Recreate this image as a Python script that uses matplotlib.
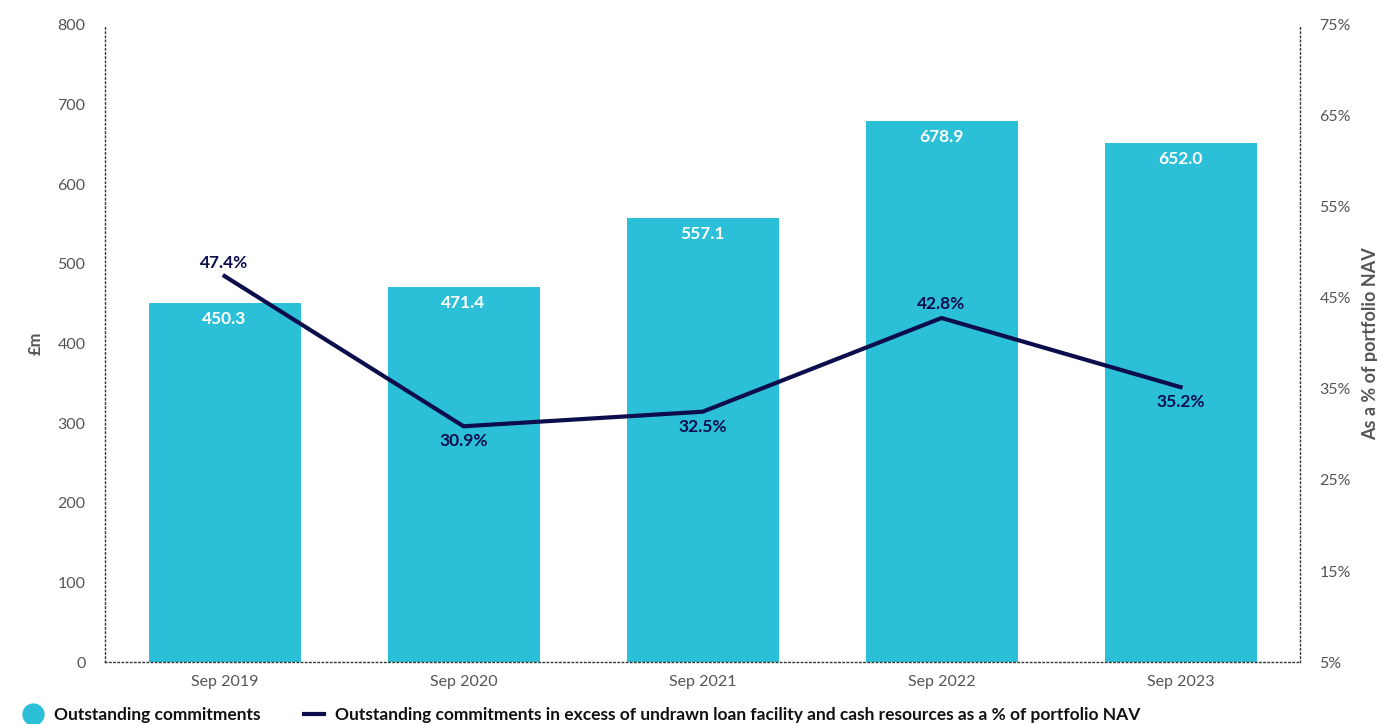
import matplotlib.pyplot as plt
from matplotlib.lines import Line2D

plt.rcParams['font.family'] = ['Lato', 'DejaVu Sans']

years = ["Sep 2019", "Sep 2020", "Sep 2021", "Sep 2022", "Sep 2023"]
commitments = [450.3, 471.4, 557.1, 678.9, 652.0]
pct_nav = [47.4, 30.9, 32.5, 42.8, 35.2]
pct_above = [True, False, False, True, False]

bar_col = '#2bbfd8'
line_col = '#0b0d4d'
grey = '#555555'

fig = plt.figure(figsize=(13.77, 7.24), dpi=100)
ax = fig.add_axes([0.0763, 0.0856, 0.8678, 0.88])
x = list(range(len(years)))

bars = ax.bar(x, commitments, width=0.636, color=bar_col, zorder=2)
for xi, v in zip(x, commitments):
    ax.text(xi, v - 10, f"{v:.1f}", ha='center', va='top', color='white',
            fontsize=12.5, fontweight='bold', zorder=4)

ax.set_xlim(-0.5, 4.5)
ax.set_ylim(0, 800)
ax.set_yticks(range(0, 801, 100))
ax.set_xticks(x)
ax.set_xticklabels(years)
ax.tick_params(length=0, colors=grey, labelsize=11.5)
ax.tick_params(axis='y', pad=14)
ax.tick_params(axis='x', pad=9)
ax.set_ylabel("£m", color=grey, fontsize=12, fontweight='bold', labelpad=10)

for s in ['top']:
    ax.spines[s].set_visible(False)
for s in ['left', 'right', 'bottom']:
    ax.spines[s].set_linestyle((0, (1, 2)))
    ax.spines[s].set_color('#333333')
    ax.spines[s].set_linewidth(1)

ax2 = ax.twinx()
ax2.set_ylim(5, 75)
ax2.set_yticks(range(5, 76, 10))
ax2.set_yticklabels([f"{t}%" for t in range(5, 76, 10)])
ax2.tick_params(length=0, colors=grey, labelsize=11.5, pad=14)
for s in ['top', 'left', 'bottom', 'right']:
    ax2.spines[s].set_visible(False)
ax2.plot(x, pct_nav, color=line_col, linewidth=3, zorder=3)
for xi, v, up in zip(x, pct_nav, pct_above):
    ax2.annotate(f"{v}%", (xi, v), xytext=(0, 4 if up else -5),
                 textcoords='offset points', ha='center',
                 va='bottom' if up else 'top', color=line_col,
                 fontsize=12.5, fontweight='bold', zorder=4)
ax2.set_ylabel("As a % of portfolio NAV", color=grey, fontsize=13,
               fontweight='bold', labelpad=8)

handles = [
    Line2D([], [], marker='o', linestyle='none', markersize=15,
           markerfacecolor=bar_col, markeredgecolor=bar_col),
    Line2D([], [], color=line_col, linewidth=3),
]
labels = ["Outstanding commitments",
          "Outstanding commitments in excess of undrawn loan facility and cash resources as a % of portfolio NAV"]
leg = fig.legend(handles, labels, loc='lower left', bbox_to_anchor=(0.005, -0.02),
                 ncol=2, frameon=False, handlelength=1.2, handletextpad=0.6,
                 columnspacing=2.5, prop={'weight': 'bold', 'size': 12.5})
for t in leg.get_texts():
    t.set_color('#111111')

fig.savefig("out.png", dpi=100)
